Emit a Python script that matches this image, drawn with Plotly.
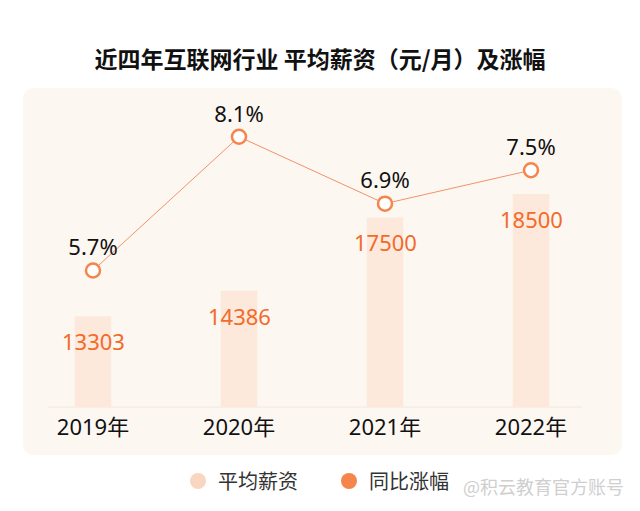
import plotly.graph_objects as go

# ---- data ----
years = ["2019年", "2020年", "2021年", "2022年"]
salary = [13303, 14386, 17500, 18500]
growth = [5.7, 8.1, 6.9, 7.5]
growth_labels = ["5.7%", "8.1%", "6.9%", "7.5%"]
title_text = "近四年互联网行业 平均薪资（元/月）及涨幅"
legend_names = ["平均薪资", "同比涨幅"]
watermark = "@积云教育官方账号"

# ---- styles ----
W, H = 640, 511
ML, MR, MT, MB = 20, 36, 95, 104
PW, PH = W - ML - MR, H - MT - MB
NUM_FONT = "Noto Sans, Noto Sans CJK SC, sans-serif"
CJK_FONT = "Noto Sans CJK SC, Noto Sans, sans-serif"
BAR_COLOR = "#FCE9DC"
PANEL_COLOR = "#FDF7F2"
ORANGE_TXT = "#F26B2A"
MARKER_COLOR = "#F5854B"
LINE_COLOR = "#F1926A"


def px(xp):
    return (xp - ML) / PW


def py(yp):
    return (H - MB - yp) / PH


fig = go.Figure()

fig.add_trace(go.Bar(
    x=years, y=salary, marker=dict(color=BAR_COLOR, line=dict(width=0)),
    showlegend=False, hoverinfo="skip",
))

fig.add_trace(go.Scatter(
    x=years, y=growth, yaxis="y2", mode="lines+markers+text",
    text=growth_labels, textposition="top center",
    textfont=dict(size=22, color="#111111", family=NUM_FONT),
    line=dict(color=LINE_COLOR, width=1),
    marker=dict(size=14, color="white", line=dict(color=MARKER_COLOR, width=2.5)),
    showlegend=False, hoverinfo="skip",
))

# legend-only entries (circle swatches)
fig.add_trace(go.Scatter(x=[None], y=[None], mode="markers", name=legend_names[0],
                         marker=dict(size=17, color="#F8D6BF", symbol="circle")))
fig.add_trace(go.Scatter(x=[None], y=[None], mode="markers", name=legend_names[1],
                         marker=dict(size=17, color=MARKER_COLOR, symbol="circle")))

# value labels inside bars
for yr, v in zip(years, salary):
    fig.add_annotation(x=yr, y=v, text=str(v), showarrow=False, yanchor="top", yshift=-8,
                       font=dict(size=22, color=ORANGE_TXT, family=NUM_FONT))

# rounded panel background
x0, x1, y0, y1, r = 23, 622, 88, 455, 12
path = (f"M {px(x0 + r)} {py(y0)} L {px(x1 - r)} {py(y0)} Q {px(x1)} {py(y0)} {px(x1)} {py(y0 + r)} "
        f"L {px(x1)} {py(y1 - r)} Q {px(x1)} {py(y1)} {px(x1 - r)} {py(y1)} "
        f"L {px(x0 + r)} {py(y1)} Q {px(x0)} {py(y1)} {px(x0)} {py(y1 - r)} "
        f"L {px(x0)} {py(y0 + r)} Q {px(x0)} {py(y0)} {px(x0 + r)} {py(y0)} Z")
fig.add_shape(type="path", path=path, xref="paper", yref="paper",
              fillcolor=PANEL_COLOR, line=dict(width=0), layer="below")
fig.add_shape(type="line", xref="paper", yref="paper", x0=px(48), x1=px(582), y0=0, y1=0,
              line=dict(color="#F4E6DB", width=1), layer="below")

fig.add_annotation(xref="paper", yref="paper", x=px(543), y=py(486), text=watermark,
                   xanchor="center", yanchor="middle",
                   showarrow=False, font=dict(size=18, color="#cfcfcf", family=CJK_FONT))

fig.update_layout(
    width=W, height=H,
    margin=dict(l=ML, r=MR, t=MT, b=MB, autoexpand=False),
    paper_bgcolor="white", plot_bgcolor="rgba(0,0,0,0)",
    bargap=0.75,
    title=dict(text=f"<b>{title_text}</b>", x=0.5, xanchor="center", y=1 - 60 / H,
               yanchor="middle", yref="container",
               font=dict(size=23, color="#111111", family=CJK_FONT)),
    xaxis=dict(showgrid=False, zeroline=False, showline=False, ticks="outside", ticklen=1,
               tickcolor="rgba(0,0,0,0)",
               tickfont=dict(size=22, color="#111111", family=NUM_FONT)),
    yaxis=dict(range=[9450, 22700], visible=False),
    yaxis2=dict(range=[3.25, 8.85], overlaying="y", visible=False),
    legend=dict(orientation="h", x=px(178), xanchor="left", y=py(481), yanchor="middle",
                entrywidth=106, entrywidthmode="pixels",
                font=dict(size=20, color="#333333", family=CJK_FONT),
                bgcolor="rgba(0,0,0,0)"),
    showlegend=True,
)

fig.write_html("out.html", config={"displayModeBar": False},
               post_script="document.body.style.margin='0';")
